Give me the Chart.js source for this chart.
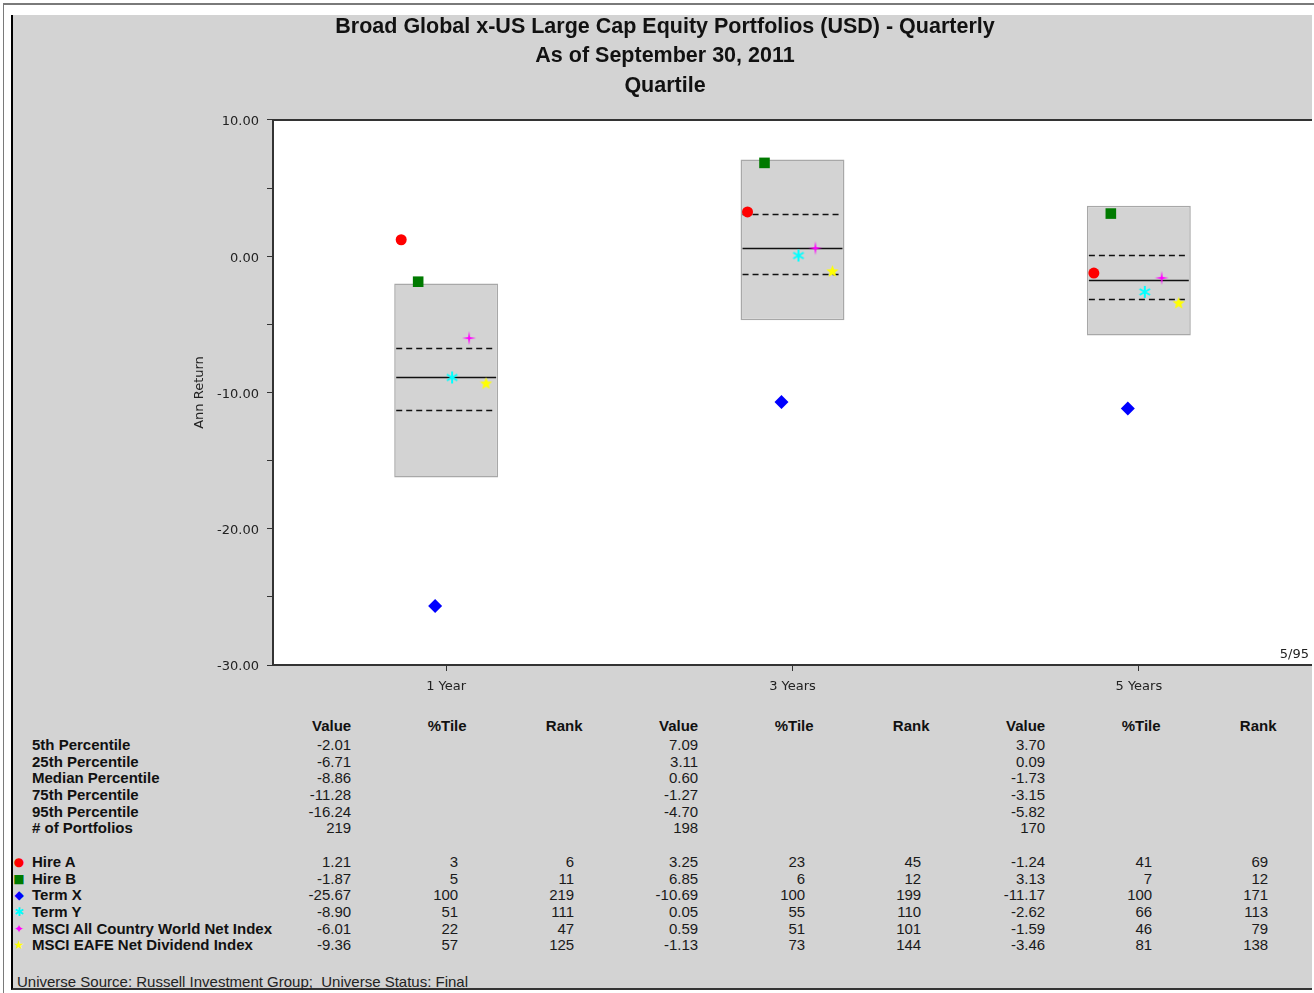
<!DOCTYPE html>
<html>
<head>
<meta charset="utf-8">
<script src="https://cdn.jsdelivr.net/npm/chart.js@4/dist/chart.umd.min.js"></script>
<style>
body { margin: 0; background: #fff; width: 1314px; height: 993px; overflow: hidden; position: relative; font-family: "Liberation Sans", Arial, sans-serif; }
#frame { position: absolute; left: 3px; top: 3px; width: 1311px; height: 990px; border-top: 2px solid #7a7a7a; border-left: 1px solid #7a7a7a; }
#panel { position: absolute; left: 11px; top: 15px; width: 1301px; height: 975px; background: #d3d3d3; border-left: 2px solid #000; border-bottom: 2px solid #333; box-sizing: border-box; }
#chart { position: absolute; left: 11px; top: 12px; }
.t { position: absolute; font-size: 15px; line-height: 16px; color: #1a1a1a; white-space: pre; }
.b { font-weight: bold; color: #111; }
.g { font-family: "DejaVu Sans", sans-serif; font-size: 12px; }
</style>
</head>
<body>
<div id="frame"></div>
<div id="panel"></div>
<canvas id="chart" width="1301" height="688"></canvas>
<script>
// periods on the x axis
const periods = ['1 Year', '3 Years', '5 Years'];

// universe percentiles (Value column)
const p5 = [-2.01, 7.09, 3.70];
const p25 = [-6.71, 3.11, 0.09];
const median = [-8.86, 0.60, -1.73];
const p75 = [-11.28, -1.27, -3.15];
const p95 = [-16.24, -4.70, -5.82];
const portfolios = [219, 198, 170];
const statLabels = ['5th Percentile', '25th Percentile', 'Median Percentile', '75th Percentile', '95th Percentile', '# of Portfolios'];

// portfolios / indices
const seriesNames = ['Hire A', 'Hire B', 'Term X', 'Term Y', 'MSCI All Country World Net Index', 'MSCI EAFE Net Dividend Index'];
const hireA = [1.21, 3.25, -1.24];
const hireB = [-1.87, 6.85, 3.13];
const termX = [-25.67, -10.69, -11.17];
const termY = [-8.90, 0.05, -2.62];
const msciAcwi = [-6.01, 0.59, -1.59];
const msciEafe = [-9.36, -1.13, -3.46];
const seriesValues = [hireA, hireB, termX, termY, msciAcwi, msciEafe];
const seriesPctile = [[3, 23, 41], [5, 6, 7], [100, 100, 100], [51, 55, 66], [22, 51, 46], [57, 73, 81]];
const seriesRank = [[6, 45, 69], [11, 12, 12], [219, 199, 171], [111, 110, 113], [47, 101, 79], [125, 144, 138]];

const yMin = -30, yMax = 10;

// marker look
function starCanvas(points, outer, inner, color) {
  const size = Math.ceil(outer * 2) + 2;
  const c = document.createElement('canvas');
  c.width = c.height = size;
  const g = c.getContext('2d');
  g.translate(size / 2, size / 2);
  g.beginPath();
  for (let i = 0; i < points * 2; i++) {
    const r = i % 2 ? inner : outer;
    const a = -Math.PI / 2 + i * Math.PI / points;
    g.lineTo(r * Math.cos(a), r * Math.sin(a));
  }
  g.closePath();
  g.fillStyle = color;
  g.fill();
  return c;
}
function asteriskCanvas(r, color) {
  const size = Math.ceil(r * 2) + 2;
  const c = document.createElement('canvas');
  c.width = c.height = size;
  const g = c.getContext('2d');
  g.translate(size / 2, size / 2);
  g.strokeStyle = color;
  g.lineWidth = 2;
  g.beginPath();
  [90, 30, 150].forEach(d => {
    const a = d * Math.PI / 180;
    g.moveTo(-r * Math.cos(a), -r * Math.sin(a));
    g.lineTo(r * Math.cos(a), r * Math.sin(a));
  });
  g.stroke();
  return c;
}
const markerStyles = [
  { color: '#ff0000', pointStyle: 'circle', radius: 5.5, glyph: '\u25CF' },
  { color: '#007a00', pointStyle: 'rect', radius: 7.5, glyph: '\u25A0' },
  { color: '#0000ff', pointStyle: 'rectRot', radius: 7, glyph: '\u25C6' },
  { color: '#00ffff', pointStyle: asteriskCanvas(6, '#00ffff'), radius: 7, glyph: '\u2731' },
  { color: '#ff00ff', pointStyle: starCanvas(4, 7, 1.4, '#ff00ff'), radius: 7, glyph: '\u2726' },
  { color: '#ffff00', pointStyle: starCanvas(5, 6.5, 2.8, '#ffff00'), radius: 7, glyph: '\u2605' }
];
const markerStep = 0.049;

const markerSets = seriesNames.map((name, k) => ({
  type: 'scatter',
  label: name,
  xAxisID: 'xs',
  order: 0,
  data: seriesValues[k].map((v, i) => ({ x: i + (k - 2.65) * markerStep, y: v })),
  pointStyle: markerStyles[k].pointStyle,
  pointRadius: markerStyles[k].radius,
  backgroundColor: markerStyles[k].color,
  borderColor: markerStyles[k].color,
  borderWidth: 0
}));

const boxSet = {
  type: 'bar',
  label: '5/95',
  xAxisID: 'x',
  order: 1,
  grouped: false,
  data: periods.map((p, i) => [p95[i], p5[i]]),
  backgroundColor: '#d3d3d3',
  borderColor: '#a8a8a8',
  borderWidth: 1.5,
  borderSkipped: false,
  barPercentage: 0.3,
  categoryPercentage: 1
};
const boxIndex = markerSets.length;

const quartileLines = {
  id: 'quartileLines',
  beforeDraw(chart) {
    const { ctx, chartArea: a } = chart;
    ctx.save();
    ctx.fillStyle = '#fff';
    ctx.fillRect(a.left, a.top, a.right - a.left, a.bottom - a.top);
    ctx.restore();
  },
  afterDatasetDraw(chart, args) {
    if (args.index !== boxIndex) return;
    const y = chart.scales.y;
    const ctx = chart.ctx;
    args.meta.data.forEach((bar, i) => {
      const l = bar.x - bar.width / 2 + 2;
      const r = bar.x + bar.width / 2 - 2;
      [[p25[i], [6, 4]], [median[i], []], [p75[i], [6, 4]]].forEach(([v, dash]) => {
        const py = Math.round(y.getPixelForValue(v)) + 0.5;
        ctx.save();
        ctx.setLineDash(dash);
        ctx.lineWidth = 1.5;
        ctx.strokeStyle = '#111';
        ctx.beginPath();
        ctx.moveTo(l, py);
        ctx.lineTo(r, py);
        ctx.stroke();
        ctx.restore();
      });
    });
  },
  afterDraw(chart) {
    const { ctx, chartArea: a } = chart;
    ctx.save();
    ctx.strokeStyle = '#333';
    ctx.lineWidth = 2;
    ctx.beginPath();
    ctx.moveTo(a.left, a.top);
    ctx.lineTo(a.right, a.top);
    ctx.stroke();
    ctx.fillStyle = '#222';
    ctx.font = '13px "DejaVu Sans", sans-serif';
    ctx.textAlign = 'right';
    ctx.textBaseline = 'middle';
    ctx.fillText('5/95', a.right - 3, a.bottom - 10);
    ctx.restore();
  }
};

const font = '"Liberation Sans", Arial, sans-serif';
const axisFont = '"DejaVu Sans", sans-serif';
const chart = new Chart(document.getElementById('chart'), {
  type: 'bar',
  data: {
    labels: periods,
    datasets: [...markerSets, boxSet]
  },
  options: {
    responsive: false,
    animation: false,
    layout: { autoPadding: false, padding: { left: 7, right: 0, top: 0, bottom: 0 } },
    plugins: {
      legend: { display: false },
      tooltip: { enabled: false },
      title: {
        display: true,
        text: ['Broad Global x-US Large Cap Equity Portfolios (USD) - Quarterly', 'As of September 30, 2011', 'Quartile'],
        color: '#111',
        font: { family: font, size: 21.5, weight: 'bold', lineHeight: 1.37 },
        padding: { top: 0, bottom: 19.6 }
      }
    },
    scales: {
      x: {
        type: 'category',
        offset: true,
        grid: { drawOnChartArea: false, offset: false, tickLength: 6, color: '#333' },
        border: { color: '#333', width: 2 },
        ticks: { color: '#222', font: { family: axisFont, size: 13 }, padding: 8 },
        afterFit(s) { s.height = 35; }
      },
      xs: { type: 'linear', display: false, offset: false, grace: 0, min: -0.5, max: 2.5 },
      y: {
        min: yMin,
        max: yMax,
        grid: { drawOnChartArea: false, tickLength: 6, color: '#333' },
        border: { color: '#333', width: 2 },
        ticks: {
          stepSize: 5,
          color: '#222',
          padding: 8,
          labelOffset: 2,
          font: { family: axisFont, size: 13 },
          callback: v => (v % 10 === 0 ? v.toFixed(2) : '')
        },
        title: { display: true, text: 'Ann Return', color: '#222', font: { family: axisFont, size: 13 }, padding: { top: 174, bottom: 4 } },
        afterFit(s) { s.width = 255; }
      }
    }
  },
  plugins: [quartileLines]
});

// data table under the chart
function put(text, x, y, align, cls, color) {
  const d = document.createElement('div');
  d.className = 't' + (cls ? ' ' + cls : '');
  d.textContent = text;
  d.style.top = (y - 8) + 'px';
  const w = 300;
  if (align === 'right') {
    d.style.left = (x - w) + 'px'; d.style.width = w + 'px'; d.style.textAlign = 'right';
  } else if (align === 'center') {
    d.style.left = (x - w / 2) + 'px'; d.style.width = w + 'px'; d.style.textAlign = 'center';
  } else {
    d.style.left = x + 'px';
  }
  if (color) d.style.color = color;
  document.body.appendChild(d);
}

const canvasLeft = 11;
const headY = 726, statY = 745, seriesY = 862, rowH = 16.65;
const colGap = 347;
const stats = [p5, p25, median, p75, p95];

periods.forEach((p, i) => {
  const cx = canvasLeft + chart.scales.x.getPixelForValue(0) + 1 + i * colGap;
  put('Value', cx - 96, headY, 'right', 'b');
  put('%Tile', cx, headY, 'center', 'b');
  put('Rank', cx + 117, headY, 'center', 'b');
  stats.forEach((s, r) => put(s[i].toFixed(2), cx - 96, statY + r * rowH, 'right'));
  put(String(portfolios[i]), cx - 96, statY + 5 * rowH, 'right');
  seriesValues.forEach((s, k) => {
    const y = seriesY + k * rowH;
    put(s[i].toFixed(2), cx - 96, y, 'right');
    put(String(seriesPctile[k][i]), cx + 11, y, 'right');
    put(String(seriesRank[k][i]), cx + 127, y, 'right');
  });
});
statLabels.forEach((l, r) => put(l, 32, statY + r * rowH, 'left', 'b'));
seriesNames.forEach((n, k) => {
  const y = seriesY + k * rowH;
  put(n, 32, y, 'left', 'b');
  put(markerStyles[k].glyph, 19, y, 'center', 'g', markerStyles[k].color);
});
put('Universe Source: Russell Investment Group;  Universe Status: Final', 17, 982, 'left', '', '#222');
</script>
</body>
</html>
